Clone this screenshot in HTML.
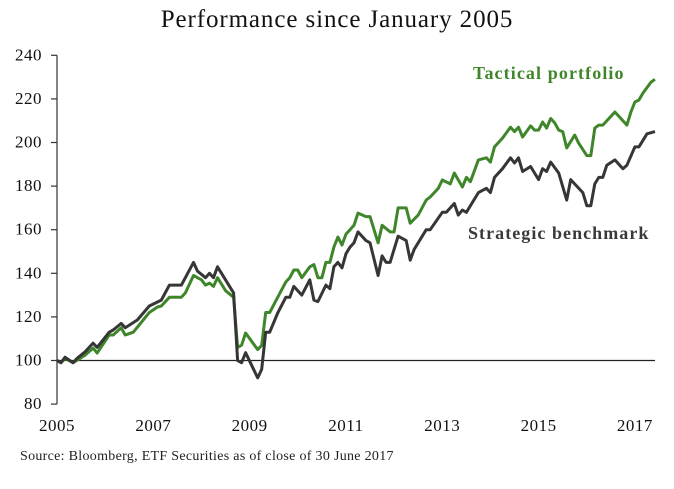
<!DOCTYPE html>
<html><head><meta charset="utf-8"><style>
body{margin:0;background:#fff;}
svg text{font-family:"Liberation Serif",serif;}
</style></head><body>
<svg id="chart" width="674" height="484" viewBox="0 0 674 484" xmlns="http://www.w3.org/2000/svg">
<text x="337" y="27" text-anchor="middle" font-size="25" letter-spacing="0.9" fill="#111">Performance since January 2005</text>
<g id="axes"></g>
<g id="series"></g>
<text x="473" y="79" font-size="18" letter-spacing="1.1" font-weight="bold" fill="#3f862b">Tactical portfolio</text>
<text x="468" y="239" font-size="18" letter-spacing="1.05" font-weight="bold" fill="#3a3a3a">Strategic benchmark</text>
<text x="20" y="460" font-size="14" letter-spacing="0.3" fill="#222">Source: Bloomberg, ETF Securities as of close of 30 June 2017</text>
</svg>
<script>
const yTicks=[80,100,120,140,160,180,200,220,240];
const xTickLabels=["2005","2007","2009","2011","2013","2015","2017"];
const xTickMonths=[0,24,48,72,96,120,144];
const benchMonths=[0,1,2,4,5,7,9,10,13,14,16,17,20,23,26,28,31,34,35,37,38,39,40,44,45,46,47,50,51,52,53,55,57,58,59,61,63,64,65,67,68,69,70,71,72,73,74,75,77,78,80,81,82,83,85,87,88,89,92,93,96,97,99,100,101,102,105,107,108,109,111,113,114,115,116,118,120,121,122,123,125,127,128,131,132,133,134,135,136,137,139,141,142,144,145,147,149];
const benchValues=[100,99,101.5,99,101,104,108,106,113,114,117,115,118.6,125,127.7,134.6,134.6,145,141,138,140,138,143,131,100,99,103.6,92,96,113,113,121.8,129,129,134,130,137,127.7,127,134.6,133,143,145,142.5,149,152,154,159,155,154,139,148,145,145,157,155,146,151,160,160,168,168,172,166.7,169,168,177,179,177,184,188,193,190.6,193,186.7,189,183,188,186.7,191,186,173.6,183,177,171,171,181,184,184,189.6,192,188,189.6,198,198,204,205];
const tactMonths=[0,1,2,4,7,9,10,13,14,16,17,19,23,25,26,28,30,31,32,34,35,36,37,38,39,40,42,44,45,46,47,50,51,52,53,55,57,58,59,60,61,63,64,65,66,67,68,69,70,71,72,73,74,75,77,78,80,81,83,84,85,87,88,90,92,93,95,96,98,99,101,102,103,105,107,108,109,111,113,114,115,116,118,119,120,121,122,123,124,125,126,127,129,130,132,133,134,135,136,139,142,143,144,145,146,148,149];
const tactValues=[100,99,101,99,102.5,105.7,103.4,111.7,111.7,115,111.7,113,122,124.5,125,129,129,129,131,139,138,137,134.6,135.5,134,138,132,129,106,107,112.6,105,107,122,122,129,136,138,141.5,141.5,138,143,144,138,138,145,145,152,156.6,153,158,160,162,167.6,166,166,154,162,159,159,170,170,163,166.7,173.6,175,179,182.8,181,186,179.6,184,182,192,193,191,198,202,207,205,207,202.5,207.6,205.7,205.7,209.4,206.6,211,209,205.7,205,197.5,203.4,199.7,194,194,206.6,208,208,214,208,214,218.6,219.5,222.7,227.7,229];

const NS="http://www.w3.org/2000/svg";
const X0=57,X1=655,M1=149,Y100=360.5,PX=2.18;
function xs(m){return X0+m*(X1-X0)/M1;}
function ys(v){return Y100-(v-100)*PX;}
function mk(tag,attrs,parent){const e=document.createElementNS(NS,tag);for(const k in attrs)e.setAttribute(k,attrs[k]);parent.appendChild(e);return e;}
const axes=document.getElementById('axes');
let yl=mk('line',{x1:X0,x2:X0,y1:ys(240),y2:ys(80),stroke:'#333','stroke-width':1.2},axes);


yTicks.forEach(v=>{
 const t=mk('line',{x1:X0-6,x2:X0,y1:ys(v),y2:ys(v),stroke:'#333','stroke-width':1.2},axes);
 
 
 const tx=mk('text',{x:42,y:ys(v)+5,'text-anchor':'end','font-size':17,'letter-spacing':0.5,fill:'#111'},axes);
 tx.textContent=v;
 
 
});
xTickLabels.forEach((l,i)=>{
 const tx=mk('text',{x:xs(xTickMonths[i]),y:431,'text-anchor':'middle','font-size':17,'letter-spacing':0.5,fill:'#111'},axes);
 tx.textContent=l;
 
 
});
const base=mk('line',{x1:X0,x2:X1,y1:ys(100),y2:ys(100),stroke:'#222','stroke-width':1.2},axes);


const sg=document.getElementById('series');
function line(ms,vs,col,name){
 const d=ms.map((m,i)=>(i?'L':'M')+xs(m).toFixed(1)+' '+ys(vs[i]).toFixed(1)).join(' ');
 const p=mk('path',{d:d,fill:'none',stroke:col,'stroke-width':3,'stroke-linejoin':'round'},sg);
 
 
}
line(tactMonths,tactValues,'#3f862b','tactical-portfolio-line');
line(benchMonths,benchValues,'#363636','strategic-benchmark-line');
</script>
</body></html>
